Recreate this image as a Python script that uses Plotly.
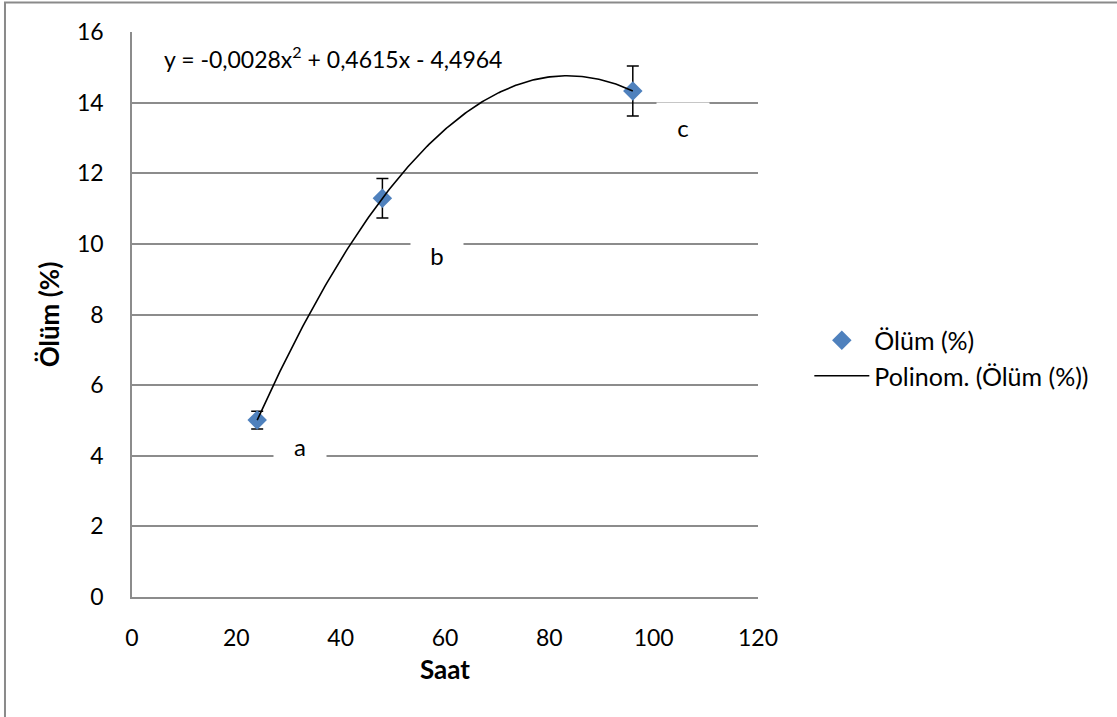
import numpy as np
import plotly.graph_objects as go

# Data
saat = [24, 48, 96]
olum = [5.01, 11.29, 14.33]
olum_err = [0.25, 0.56, 0.71]

x_ticks = [0, 20, 40, 60, 80, 100, 120]
y_ticks = [0, 2, 4, 6, 8, 10, 12, 14, 16]

letters = ["a", "b", "c"]
letter_x = [32.2, 58.4, 105.6]
letter_y = [4.28, 9.69, 13.32]

equation_text = "y = -0,0028x<sup>2</sup> + 0,4615x - 4,4964"

FONT = "Lato"
GRID = "#8c8c8c"

# 2nd-order polynomial trendline fitted to the data (as in Excel)
coef = np.polyfit(saat, olum, 2)
xs = np.linspace(min(saat), max(saat), 200)
ys = np.polyval(coef, xs)

fig = go.Figure()

fig.add_trace(go.Scatter(
    x=saat, y=olum, mode="markers", name="Ölüm (%)",
    legendgroup="g1",
    marker=dict(symbol="diamond", size=15, color="#4F81BD"),
    error_y=dict(type="data", array=olum_err, visible=True,
                 color="black", thickness=1.5, width=6),
))

fig.add_trace(go.Scatter(
    x=xs, y=ys, mode="lines", name="Polinom. (Ölüm (%))",
    legendgroup="g2",
    line=dict(color="black", width=1.6),
))

for t, lx, ly in zip(letters, letter_x, letter_y):
    fig.add_annotation(
        x=lx, y=ly, text=t, showarrow=False, xref="x", yref="y",
        font=dict(family=FONT, size=24, color="black"),
        bgcolor="white", width=50, height=46,
    )

fig.add_annotation(
    x=5.7, y=15.28, text=equation_text, showarrow=False,
    xref="x", yref="y", xanchor="left", yanchor="middle",
    font=dict(family=FONT, size=23, color="black"),
)

# outer chart frame
fig.add_shape(type="rect", xref="paper", yref="paper",
              x0=-0.2029, x1=1.6, y0=-0.25, y1=1.0522,
              line=dict(color="#8a8a8a", width=2), layer="below")

fig.update_layout(
    width=1117, height=717,
    margin=dict(l=132, r=359, t=32, b=120),
    paper_bgcolor="white", plot_bgcolor="white",
    font=dict(family=FONT, size=23, color="black"),
    showlegend=True,
    legend=dict(
        x=1.082, y=0.423, xanchor="left", yanchor="middle",
        traceorder="grouped", tracegroupgap=0,
        font=dict(family=FONT, size=25, color="black"),
        bgcolor="rgba(0,0,0,0)", itemwidth=55,
    ),
    xaxis=dict(
        range=[0, 120], tickvals=x_ticks, ticktext=[str(v) for v in x_ticks],
        showgrid=False, zeroline=False, showline=True,
        linecolor=GRID, linewidth=1.5, ticks="",
        ticklabelstandoff=20,
        tickfont=dict(family=FONT, size=23),
        title=dict(text="<b>Saat</b>", font=dict(family=FONT, size=26), standoff=10),
    ),
    yaxis=dict(
        range=[0, 16], tickvals=y_ticks, ticktext=[str(v) for v in y_ticks],
        showgrid=True, gridcolor=GRID, gridwidth=1.5,
        zeroline=False, showline=True,
        linecolor=GRID, linewidth=1.5, ticks="",
        ticklabelstandoff=22,
        tickfont=dict(family=FONT, size=23),
        title=dict(text="<b>Ölüm (%)</b>", font=dict(family=FONT, size=26), standoff=10),
    ),
)

fig.write_html("out.html", config={"displayModeBar": False},
               post_script="document.body.style.margin='0';")
